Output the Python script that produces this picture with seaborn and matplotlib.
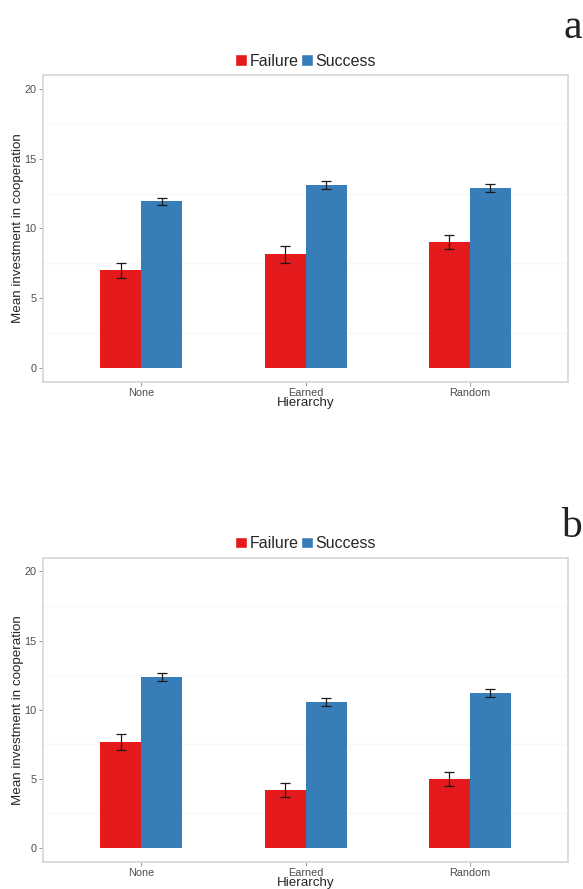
import numpy as np
import pandas as pd
import seaborn as sns
import matplotlib
matplotlib.use("Agg")
import matplotlib.pyplot as plt
from matplotlib.patches import Patch

# values
hierarchy = ["None", "Earned", "Random"]
outcomes = ["Failure", "Success"]

# panel a
a_failure = [7.0, 8.15, 9.0]
a_success = [11.95, 13.1, 12.9]
a_failure_se = [0.55, 0.6, 0.5]
a_success_se = [0.25, 0.28, 0.28]

# panel b
b_failure = [7.65, 4.2, 5.0]
b_success = [12.35, 10.55, 11.2]
b_failure_se = [0.6, 0.5, 0.5]
b_success_se = [0.28, 0.28, 0.27]

colors = {"Failure": "#E41A1C", "Success": "#377EB8"}

sns.set_style("white")
plt.rcParams['font.family'] = ['Liberation Sans', 'DejaVu Sans']

fig = plt.figure(figsize=(5.83, 8.89), dpi=100)


def make_df(fail, succ):
    return pd.DataFrame({
        "Hierarchy": hierarchy * 2,
        "Outcome": ["Failure"] * 3 + ["Success"] * 3,
        "mean": fail + succ,
    })


def draw_panel(ax, fail, succ, fail_se, succ_se, letter, letter_y):
    df = make_df(fail, succ)
    for yy in [2.5, 7.5, 12.5, 17.5]:
        ax.axhline(yy, color="#f8f8f8", lw=1.0, zorder=0)
    sns.barplot(data=df, x="Hierarchy", y="mean", hue="Outcome", order=hierarchy,
                hue_order=outcomes, palette=colors, errorbar=None, width=0.5,
                saturation=1, legend=False, linewidth=0, ax=ax, zorder=2)
    # error bars on top of the bars, positions from the drawn patches
    bars = [p for p in ax.patches if p.get_height() > 0]
    ses = fail_se + succ_se
    means = fail + succ
    for p, m, s in zip(bars, means, ses):
        cx = p.get_x() + p.get_width() / 2
        ax.errorbar(cx, m, yerr=s, color="#1a1a1a", lw=0.9, capsize=3.5,
                    capthick=0.9, zorder=3)
    ax.set_xlim(-0.6, 2.6)
    ax.set_ylim(-1, 21)
    ax.set_yticks([0, 5, 10, 15, 20])
    ax.set_xlabel("Hierarchy", fontsize=9.6, labelpad=-1)
    ax.set_ylabel("Mean investment in cooperation", fontsize=9.6, labelpad=0.5)
    ax.tick_params(axis="both", labelsize=7.8, labelcolor="#4d4d4d", length=3,
                   width=0.6, color="#888888", pad=1.5, left=True, bottom=True)
    for sp in ax.spines.values():
        sp.set_color("#d6d6d6")
        sp.set_linewidth(1.2)
    handles = [Patch(facecolor=colors[o], label=o) for o in outcomes]
    ax.legend(handles=handles, loc="lower center", bbox_to_anchor=(0.5, 0.99),
              ncol=2, frameon=False, fontsize=11.5, handlelength=0.75,
              handleheight=0.75, handletextpad=0.15, columnspacing=0.15,
              borderaxespad=0.2)
    fig.text(582 / 583, letter_y, letter, family="Liberation Serif", fontsize=30,
             ha="right", va="baseline", color="#222222")


ax_a = fig.add_axes([0.0738, 0.5706, 0.9005, 0.345])
draw_panel(ax_a, a_failure, a_success, a_failure_se, a_success_se, "a", 1 - 38 / 889)

ax_b = fig.add_axes([0.0738, 0.0307, 0.9005, 0.342])
draw_panel(ax_b, b_failure, b_success, b_failure_se, b_success_se, "b", 1 - 537 / 889)

fig.savefig("out.png", dpi=100)
